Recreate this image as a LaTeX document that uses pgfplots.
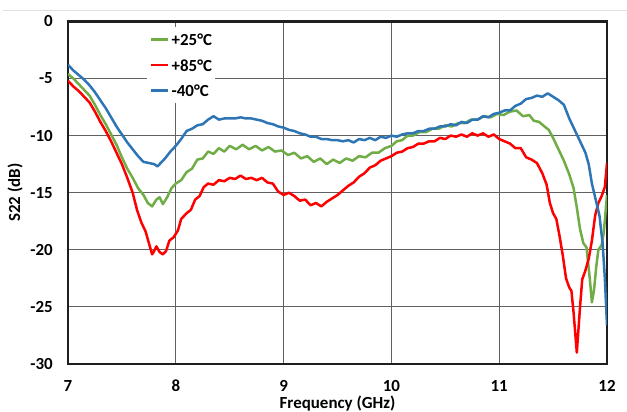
\documentclass[border=0pt]{standalone}
\usepackage{fontspec}
\setmainfont{Carlito}
\usepackage{pgfplots}
\pgfplotsset{compat=1.18}

\definecolor{sgreen}{RGB}{112,173,71}
\definecolor{sred}{RGB}{255,0,0}
\definecolor{sblue}{RGB}{46,117,182}

\begin{document}
\begin{tikzpicture}
\clip (0bp,0bp) rectangle (627bp,412bp);
\draw[black!12, line width=1bp] (3bp,401bp) -- (627bp,401bp);
\begin{axis}[
  at={(68bp,48bp)}, anchor=south west,
  scale only axis,
  width=539bp, height=342.6bp,
  xmin=7, xmax=12, ymin=-30, ymax=0,
  xtick={7,8,9,10,11,12},
  xticklabels={7,8,9,10,11,12},
  ytick={-30,-25,-20,-15,-10,-5,0},
  yticklabels={-30,-25,-20,-15,-10,-5,0},
  major tick length=0pt,
  grid=major,
  major grid style={black!62, line width=1.1bp},
  axis line style={black!88, line width=2.5bp},
  font=\fontsize{17}{20}\selectfont\bfseries,
  yticklabel style={anchor=east, inner sep=0pt, xshift=-15bp},
  xticklabel style={anchor=north, inner sep=0pt, yshift=-16bp},
  xlabel={Frequency (GHz)},
  ylabel={S22 (dB)},
  xlabel style={at={(axis description cs:0.5,0)}, anchor=north, yshift=-31.5bp, inner sep=0pt},
  ylabel style={at={(axis description cs:-0.0983,0.5)}, anchor=center, inner sep=0pt},
  legend cell align=left,
  legend style={at={(rel axis cs:0.1466,0.9837)}, anchor=north west, draw=none, fill=white,
    inner xsep=3bp, inner ysep=6.5bp, row sep=13.5bp, column sep=2bp,
    nodes={inner sep=0pt, text height=12bp, text depth=0bp},
    font=\fontsize{17}{20}\selectfont\bfseries},
  legend image code/.code={\draw[#1, line width=2.5bp] (0bp,0bp) -- (17bp,0bp);},
  every axis plot/.append style={line width=2.5bp, line join=round},
]
% +25 C
\addplot[sgreen] coordinates {
(7.00,-4.6)(7.05,-5.0)(7.10,-5.5)(7.15,-6.0)(7.20,-6.5)(7.25,-7.3)(7.30,-8.2)
(7.35,-9.0)(7.40,-9.9)(7.45,-10.8)(7.50,-11.9)(7.55,-12.9)(7.60,-13.7)(7.65,-14.6)
(7.70,-15.2)(7.74,-15.9)(7.78,-16.2)(7.82,-15.6)(7.85,-15.4)(7.88,-16.0)(7.92,-15.4)
(7.96,-14.6)(8.00,-14.2)(8.05,-13.9)(8.10,-13.2)(8.15,-12.9)(8.20,-12.1)(8.25,-12.0)
(8.30,-11.4)(8.35,-11.6)(8.40,-11.1)(8.45,-11.4)(8.50,-10.9)(8.56,-11.2)(8.62,-10.8)
(8.68,-11.2)(8.74,-10.9)(8.80,-11.3)(8.86,-11.0)(8.92,-11.4)(8.98,-11.3)(9.04,-11.7)
(9.10,-11.5)(9.16,-12.0)(9.22,-11.8)(9.28,-12.3)(9.34,-12.0)(9.40,-12.5)(9.46,-12.1)
(9.52,-12.4)(9.58,-12.0)(9.64,-12.2)(9.70,-11.8)(9.76,-11.9)(9.82,-11.5)(9.88,-11.5)
(9.94,-11.1)(10.00,-10.9)(10.05,-10.5)(10.10,-10.4)(10.15,-10.0)(10.20,-10.0)(10.26,-9.7)
(10.32,-9.7)(10.38,-9.4)(10.44,-9.4)(10.50,-9.1)(10.56,-9.2)(10.62,-8.9)(10.68,-8.9)
(10.74,-8.6)(10.80,-8.6)(10.86,-8.3)(10.92,-8.4)(10.98,-8.1)(11.04,-8.2)(11.10,-7.9)
(11.16,-7.8)(11.22,-8.3)(11.28,-8.2)(11.32,-8.7)(11.37,-8.8)(11.42,-9.2)(11.46,-9.5)
(11.50,-10.2)(11.55,-11.2)(11.60,-12.2)(11.65,-13.4)(11.69,-14.6)(11.72,-16.3)(11.75,-18.2)
(11.78,-19.4)(11.81,-19.8)(11.84,-22.5)(11.86,-24.6)(11.88,-23.5)(11.90,-21.5)(11.92,-20.0)
(11.95,-19.6)(11.97,-18.5)(12.00,-15.2)
};
\addlegendentry{+25°C}
% +85 C
\addplot[sred] coordinates {
(7.00,-5.2)(7.05,-5.7)(7.10,-6.1)(7.15,-6.6)(7.20,-7.1)(7.25,-7.9)(7.30,-8.8)
(7.35,-9.6)(7.40,-10.5)(7.45,-11.5)(7.50,-12.5)(7.55,-13.7)(7.60,-15.0)(7.64,-16.5)
(7.68,-17.6)(7.72,-18.4)(7.75,-19.4)(7.78,-20.4)(7.80,-20.1)(7.82,-19.7)(7.85,-20.2)
(7.88,-20.4)(7.91,-20.1)(7.94,-19.2)(7.98,-18.9)(8.02,-18.3)(8.05,-17.3)(8.10,-16.8)
(8.14,-16.5)(8.18,-15.6)(8.22,-15.3)(8.26,-14.5)(8.30,-14.2)(8.35,-14.3)(8.40,-13.9)
(8.45,-14.0)(8.50,-13.7)(8.55,-13.8)(8.60,-13.5)(8.65,-13.8)(8.70,-13.7)(8.75,-13.9)
(8.80,-13.7)(8.85,-14.1)(8.90,-14.2)(8.95,-14.9)(9.00,-15.2)(9.05,-15.0)(9.10,-15.3)
(9.15,-15.7)(9.20,-15.6)(9.25,-16.1)(9.30,-15.9)(9.35,-16.2)(9.40,-15.8)(9.45,-15.5)
(9.50,-15.2)(9.55,-14.8)(9.60,-14.4)(9.65,-14.1)(9.70,-13.6)(9.75,-13.3)(9.80,-12.8)
(9.85,-12.6)(9.90,-12.2)(9.95,-12.0)(10.00,-11.8)(10.05,-11.5)(10.10,-11.4)(10.15,-11.1)
(10.20,-11.0)(10.25,-10.7)(10.30,-10.7)(10.35,-10.5)(10.40,-10.5)(10.45,-10.2)(10.50,-10.3)
(10.55,-10.0)(10.60,-10.1)(10.65,-9.9)(10.70,-10.1)(10.75,-9.8)(10.80,-10.0)(10.85,-9.8)
(10.90,-10.1)(10.95,-9.9)(11.00,-10.3)(11.05,-10.5)(11.10,-10.7)(11.15,-11.1)(11.20,-11.1)
(11.25,-11.9)(11.30,-12.1)(11.35,-12.4)(11.40,-13.3)(11.44,-14.3)(11.47,-15.9)(11.50,-16.8)
(11.53,-17.3)(11.56,-18.8)(11.59,-20.5)(11.62,-22.5)(11.65,-23.3)(11.67,-23.6)(11.69,-25.5)
(11.72,-29.0)(11.75,-25.0)(11.77,-22.6)(11.80,-21.8)(11.83,-20.8)(11.86,-19.2)(11.89,-17.0)
(11.92,-15.9)(11.95,-15.3)(11.98,-14.5)(12.00,-12.4)
};
\addlegendentry{+85°C}
% -40 C
\addplot[sblue] coordinates {
(7.00,-3.8)(7.05,-4.3)(7.10,-4.7)(7.15,-5.1)(7.20,-5.6)(7.25,-6.2)(7.30,-6.9)
(7.35,-7.6)(7.40,-8.4)(7.45,-9.2)(7.50,-9.9)(7.55,-10.6)(7.60,-11.2)(7.65,-11.8)
(7.70,-12.3)(7.75,-12.4)(7.80,-12.5)(7.83,-12.7)(7.86,-12.4)(7.90,-12.0)(7.95,-11.4)
(8.00,-10.9)(8.05,-10.3)(8.10,-9.6)(8.15,-9.4)(8.20,-9.1)(8.25,-9.0)(8.30,-8.6)
(8.35,-8.3)(8.40,-8.6)(8.45,-8.5)(8.50,-8.5)(8.55,-8.5)(8.60,-8.4)(8.65,-8.5)
(8.70,-8.5)(8.75,-8.6)(8.80,-8.7)(8.85,-8.9)(8.90,-9.0)(8.95,-9.2)(9.00,-9.3)
(9.05,-9.5)(9.10,-9.6)(9.15,-9.8)(9.20,-9.9)(9.25,-10.1)(9.30,-10.1)(9.35,-10.3)
(9.40,-10.3)(9.45,-10.4)(9.50,-10.4)(9.55,-10.5)(9.60,-10.4)(9.65,-10.6)(9.70,-10.3)
(9.75,-10.4)(9.80,-10.2)(9.85,-10.4)(9.90,-10.1)(9.95,-10.2)(10.00,-10.0)(10.05,-10.1)
(10.10,-9.9)(10.15,-9.8)(10.20,-9.8)(10.25,-9.6)(10.30,-9.6)(10.35,-9.4)(10.40,-9.4)
(10.45,-9.2)(10.50,-9.2)(10.55,-9.0)(10.60,-9.1)(10.65,-8.8)(10.70,-8.9)(10.75,-8.6)
(10.80,-8.6)(10.85,-8.3)(10.90,-8.4)(10.95,-8.1)(11.00,-8.0)(11.05,-7.8)(11.10,-7.8)
(11.15,-7.4)(11.20,-7.2)(11.25,-6.8)(11.30,-6.7)(11.35,-6.5)(11.40,-6.6)(11.45,-6.3)
(11.50,-6.6)(11.55,-6.9)(11.60,-7.3)(11.65,-8.5)(11.70,-9.5)(11.75,-10.5)(11.80,-11.5)
(11.83,-12.5)(11.86,-14.2)(11.90,-15.8)(11.93,-17.0)(11.96,-19.5)(11.98,-22.5)(12.00,-26.6)
};
\addlegendentry{-40°C}
\end{axis}
\end{tikzpicture}
\end{document}
